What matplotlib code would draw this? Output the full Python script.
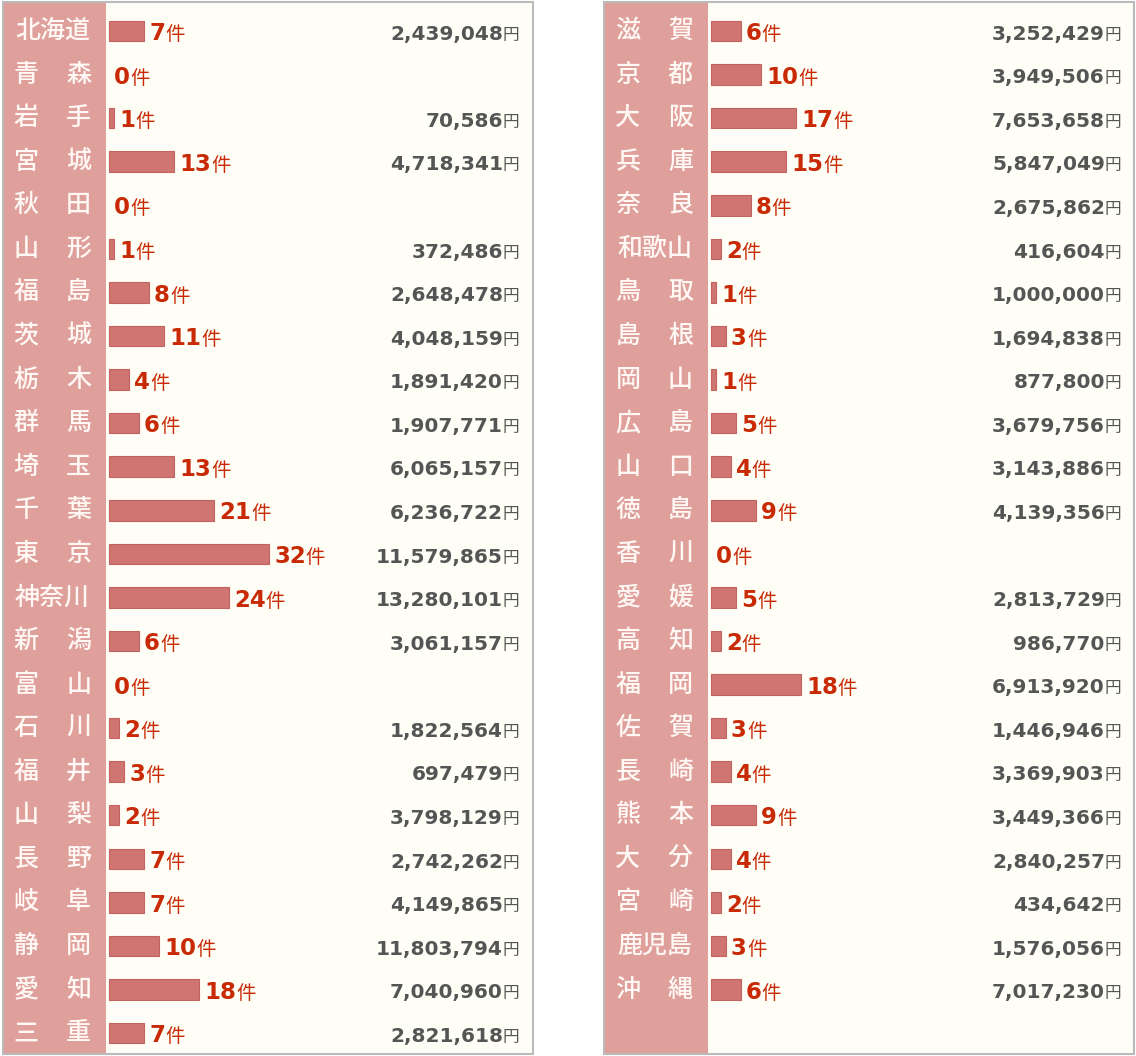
import matplotlib
matplotlib.use("Agg")
import matplotlib.pyplot as plt

plt.rcParams['font.family'] = ['DejaVu Sans', 'Noto Sans CJK JP']

# 都道府県・件数・金額（円）
names_left = ['北海道', '青森', '岩手', '宮城', '秋田', '山形', '福島', '茨城', '栃木', '群馬',
              '埼玉', '千葉', '東京', '神奈川', '新潟', '富山', '石川', '福井', '山梨', '長野',
              '岐阜', '静岡', '愛知', '三重']
counts_left = [7, 0, 1, 13, 0, 1, 8, 11, 4, 6, 13, 21, 32, 24, 6, 0, 2, 3, 2, 7, 7, 10, 18, 7]
amounts_left = [2439048, None, 70586, 4718341, None, 372486, 2648478, 4048159, 1891420, 1907771,
                6065157, 6236722, 11579865, 13280101, 3061157, None, 1822564, 697479, 3798129,
                2742262, 4149865, 11803794, 7040960, 2821618]

names_right = ['滋賀', '京都', '大阪', '兵庫', '奈良', '和歌山', '鳥取', '島根', '岡山', '広島',
               '山口', '徳島', '香川', '愛媛', '高知', '福岡', '佐賀', '長崎', '熊本', '大分',
               '宮崎', '鹿児島', '沖縄']
counts_right = [6, 10, 17, 15, 8, 2, 1, 3, 1, 5, 4, 9, 0, 5, 2, 18, 3, 4, 9, 4, 2, 3, 6]
amounts_right = [3252429, 3949506, 7653658, 5847049, 2675862, 416604, 1000000, 1694838, 877800,
                 3679756, 3143886, 4139356, None, 2813729, 986770, 6913920, 1446946, 3369903,
                 3449366, 2840257, 434642, 1576056, 7017230]

W, H = 1136, 1056
fig = plt.figure(figsize=(W / 100, H / 100), dpi=100)
fig.patch.set_facecolor('white')

bg = '#FFFEF6'
pink = '#DFA09C'
bar_c = '#CF7672'
red = '#C82A06'
gray = '#555555'
cjk = 'Noto Sans CJK JP'

row_px = 43.57
top_row = 31


def panel(x0, x1, zero_px, names, counts, amounts):
    ax = fig.add_axes([x0 / W, 2 / H, (x1 - x0) / W, 1052 / H])
    xmin = (x0 - zero_px) / 5
    xmax = (x1 - zero_px) / 5
    ax.set_xlim(xmin, xmax)
    ax.set_ylim((1054 - top_row) / row_px, (2 - top_row) / row_px)
    ax.set_facecolor(bg)
    ax.set_xticks([])
    ax.set_yticks([])
    for s in ax.spines.values():
        s.set_color('#BBBBBB')
        s.set_linewidth(1.5)
    ax.axvspan(xmin, -0.4, color=pink, lw=0)

    ys = list(range(len(names)))
    ax.barh(ys, counts, left=0.2, height=0.47, color=bar_c, edgecolor='#C4625E',
            linewidth=[0.8 if c else 0 for c in counts])

    for y, n, c, a in zip(ys, names, counts, amounts):
        # 県名
        if len(n) == 2:
            ax.text(-18.9, y, n[0], ha='left', va='center', color='#FFF8F4', fontsize=18,
                    family=cjk, fontweight='medium')
            ax.text(-3.4, y, n[1], ha='right', va='center', color='#FFF8F4', fontsize=18,
                    family=cjk, fontweight='medium')
        else:
            ax.text(-11.1, y, n, ha='center', va='center', color='#FFF8F4', fontsize=18,
                    family=cjk, fontweight='medium')
        # 件数
        t = ax.text(c + 1.2, y + 0.21, str(c), ha='left', va='baseline', color=red,
                    fontsize=16.5, fontweight='bold')
        ax.annotate('件', xy=(1, y + 0.21), xycoords=(t, 'data'), ha='left', va='baseline',
                    color=red, fontsize=14, family=cjk)
        # 金額
        if a is not None:
            yen = ax.text(82.3, y + 0.2, '円', ha='right', va='baseline', color=gray,
                          fontsize=12, family=cjk)
            ax.annotate(f'{a:,}', xy=(0, y + 0.2), xycoords=(yen, 'data'), ha='right',
                        va='baseline', color=gray, fontsize=14.5, fontweight='bold')
    return ax


panel(2.5, 533, 108, names_left, counts_left, amounts_left)
panel(603.5, 1134, 710, names_right, counts_right, amounts_right)

fig.savefig('out.png', dpi=100, facecolor='white')
